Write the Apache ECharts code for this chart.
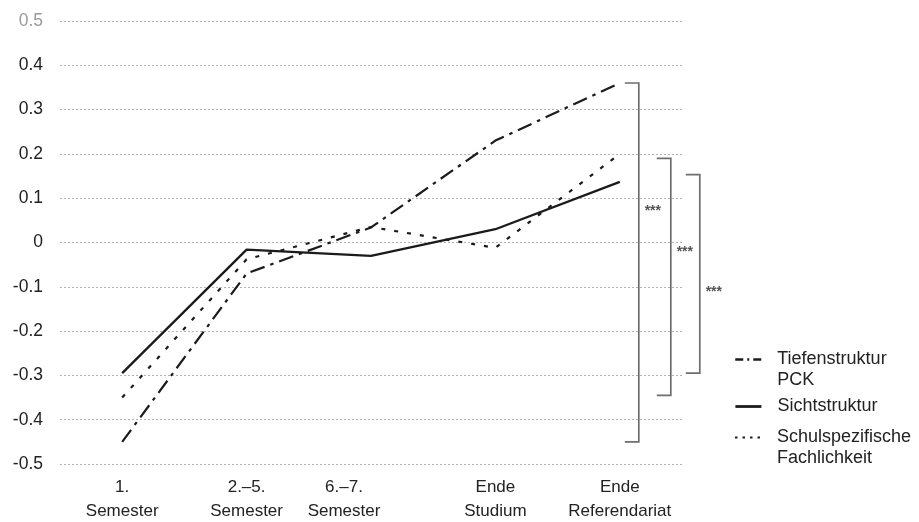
<!DOCTYPE html>
<html><head><meta charset="utf-8">
<script src="https://cdn.jsdelivr.net/npm/echarts@6/dist/echarts.min.js"></script>
<style>html,body{margin:0;padding:0;background:#fff}#c{width:919px;height:522px}</style>
</head><body><div id="c"></div>
<script>
const categories = ['1.\nSemester', '2.–5.\nSemester', '6.–7.\nSemester', 'Ende\nStudium', 'Ende\nReferendariat'];
const seriesNames = ['Tiefenstruktur\nPCK', 'Sichtstruktur', 'Schulspezifische\nFachlichkeit'];
const tiefenstruktur = [-0.45, -0.07, 0.034, 0.23, 0.36];
const sichtstruktur = [-0.295, -0.016, -0.03, 0.03, 0.137];
const schulspezifisch = [-0.35, -0.038, 0.035, -0.012, 0.2];
const yMin = -0.5, yMax = 0.5, yStep = 0.1;
const bracketTops = [0.36, 0.19, 0.153];
const bracketBottoms = [-0.45, -0.345, -0.295];
const bracketStarY = [0.077, -0.014, -0.106];
const bracketLabels = ['***', '***', '***'];

const FONT = '"Liberation Sans", Arial, Helvetica, sans-serif';
const chart = echarts.init(document.getElementById('c'), null, {renderer: 'canvas'});

function xLabel(v, i) {
  const lines = v.split('\n');
  if (i === 2) return lines.map(l => '{a|' + l + '}{p|}').join('\n');
  return lines.map(l => '{a|' + l + '}').join('\n');
}
// two-line legend names: a blank leading line keeps the icon level with the first line
function legendName(name) {
  return name.indexOf('\n') >= 0 ? ' \n' + name : name;
}

const lineColor = '#1b1b1b';
const legendBase = {
  orient: 'vertical', left: 734, padding: 0, itemWidth: 26, itemHeight: 10,
  itemStyle: {opacity: 0}, formatter: legendName,
  textStyle: {fontFamily: FONT, fontSize: 18, color: '#222', lineHeight: 21, padding: [0, 0, 0, 11]}
};

const option = {
  animation: false,
  backgroundColor: '#fff',
  grid: {left: 60, right: 237, top: 21, bottom: 58, containLabel: false},
  xAxis: {
    type: 'category', data: categories, boundaryGap: true,
    axisLine: {show: false}, axisTick: {show: false}, splitLine: {show: false},
    axisLabel: {
      interval: 0, margin: 11, formatter: xLabel,
      rich: {
        a: {fontFamily: FONT, fontSize: 17, color: '#222', lineHeight: 24},
        p: {width: 54}
      }
    }
  },
  yAxis: {
    type: 'value', min: yMin, max: yMax, interval: yStep,
    axisLine: {show: false}, axisTick: {show: false},
    splitLine: {show: true, lineStyle: {color: '#b3b3b3', width: 1, type: [2, 2]}},
    axisLabel: {
      margin: 17,
      formatter: v => {
        const t = Math.abs(v) < 1e-9 ? '0' : v.toFixed(1);
        return Math.abs(v - 0.5) < 1e-9 ? '{g|' + t + '}' : '{b|' + t + '}';
      },
      rich: {
        g: {fontFamily: FONT, fontSize: 17.5, color: '#9a9a9a'},
        b: {fontFamily: FONT, fontSize: 17.5, color: '#222'}
      }
    }
  },
  legend: [
    Object.assign({}, legendBase, {data: [seriesNames[0]], top: 328,
      lineStyle: {width: 2.5, type: [8, 4, 2, 4]}}),
    Object.assign({}, legendBase, {data: [seriesNames[1]], top: 396,
      lineStyle: {width: 2.8, type: 'solid'}}),
    Object.assign({}, legendBase, {data: [seriesNames[2]], top: 406,
      lineStyle: {width: 2, type: [2.5, 5]}})
  ],
  series: [
    {name: seriesNames[0], type: 'line', data: tiefenstruktur, symbol: 'none',
      lineStyle: {color: lineColor, width: 2.2, type: [15, 6, 3.5, 6]}, itemStyle: {color: lineColor}},
    {name: seriesNames[1], type: 'line', data: sichtstruktur, symbol: 'none',
      lineStyle: {color: lineColor, width: 2.3, type: 'solid'}, itemStyle: {color: lineColor}},
    {name: seriesNames[2], type: 'line', data: schulspezifisch, symbol: 'none',
      lineStyle: {color: lineColor, width: 2.2, type: [4, 9]}, itemStyle: {color: lineColor}}
  ]
};
chart.setOption(option);

// significance brackets, placed through the y-axis scale
const xLast = chart.convertToPixel({xAxisIndex: 0}, categories[categories.length - 1]);
const bracketOffsets = [19, 51, 80];
const elements = [];
bracketTops.forEach((top, i) => {
  const yT = chart.convertToPixel({yAxisIndex: 0}, top);
  const yB = chart.convertToPixel({yAxisIndex: 0}, bracketBottoms[i]);
  const yS = chart.convertToPixel({yAxisIndex: 0}, bracketStarY[i]);
  const xv = xLast + bracketOffsets[i];
  const x0 = xv - 14;
  elements.push({
    type: 'polyline', silent: true,
    shape: {points: [[x0, yT], [xv, yT], [xv, yB], [x0, yB]]},
    style: {stroke: '#6e6e6e', lineWidth: 1.7, fill: null}
  });
  elements.push({
    type: 'text', silent: true, x: xv + 14, y: yS + 3,
    style: {text: bracketLabels[i], fontFamily: FONT, fontSize: 14, fontWeight: 'bold',
      fill: '#555', align: 'center', verticalAlign: 'middle'}
  });
});
chart.setOption({graphic: {elements}});
</script></body></html>
